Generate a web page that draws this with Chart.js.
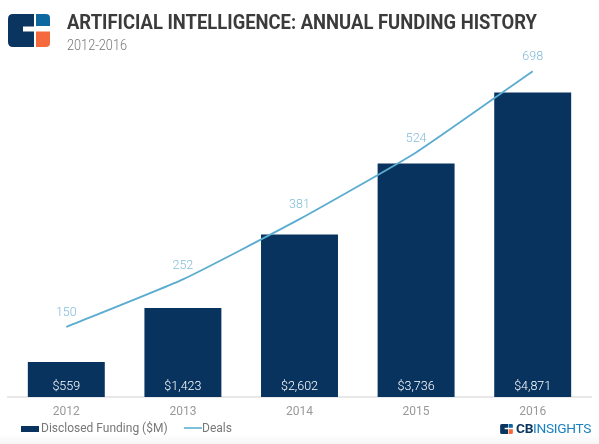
<!DOCTYPE html>
<html><head><meta charset="utf-8">
<script src="https://cdn.jsdelivr.net/npm/chart.js@4.4.1/dist/chart.umd.min.js"></script>
<style>
html,body{margin:0;padding:0;background:#fff;}
body{width:599px;height:444px;position:relative;overflow:hidden;font-family:Roboto,"Noto Sans",sans-serif;}
#wrap{position:absolute;left:0;top:0;width:599px;height:444px;}
.t{position:absolute;white-space:nowrap;transform-origin:0 0;line-height:1;}
#fade{position:absolute;left:0;top:434px;width:599px;height:10px;background:linear-gradient(rgba(0,0,0,0),rgba(0,0,0,0.035));}
</style></head><body>
<div id="fade"></div>
<div id="wrap"><canvas id="c" width="599" height="444"></canvas></div>

<svg style="position:absolute;left:8px;top:14px" width="42" height="33" viewBox="0 0 42 33">
  <path d="M5 0 H26 V12.5 H15 V17.5 H26 V33 H5 Q0 33 0 28 V5 Q0 0 5 0 Z" fill="#0b3561"/>
  <path d="M28 0 H38 Q42 0 42 4 V12 H28 Z" fill="#0d68a0"/>
  <path d="M28 17.5 H42 V29 Q42 33 38 33 H28 Z" fill="#f46a3c"/>
</svg>

<div id="title" class="t" data-w="470" style="left:67px;top:12px;font-size:21px;font-weight:700;color:#3b3b3b;">ARTIFICIAL INTELLIGENCE: ANNUAL FUNDING HISTORY</div>
<div id="sub" class="t" data-w="60" style="left:67px;top:38px;font-size:14px;font-weight:300;color:#777;">2012-2016</div>

<div style="position:absolute;left:21px;top:426px;width:18px;height:6px;background:#08335f"></div>
<div class="t" id="lg1" style="left:41px;top:422px;font-size:12px;color:#777;">Disclosed Funding ($M)</div>
<div style="position:absolute;left:184px;top:427px;width:18px;height:2px;background:#7cc0dc"></div>
<div class="t" id="lg2" style="left:202px;top:422px;font-size:12px;color:#777;">Deals</div>

<svg style="position:absolute;left:499px;top:424px" width="15" height="10" viewBox="0 0 42 33">
  <path d="M5 0 H26 V12.5 H15 V17.5 H26 V33 H5 Q0 33 0 28 V5 Q0 0 5 0 Z" fill="#0b3561"/>
  <path d="M28 0 H38 Q42 0 42 4 V12 H28 Z" fill="#0d68a0"/>
  <path d="M28 17.5 H42 V29 Q42 33 38 33 H28 Z" fill="#f46a3c"/>
</svg>
<div class="t" id="cbi" data-w="75" style="left:516px;top:422px;font-size:13px;letter-spacing:-0.3px;"><span style="font-weight:700;color:#0b3561">CB</span><span style="color:#1b80bf">INSIGHTS</span></div>

<script>
const years = ['2012','2013','2014','2015','2016'];
const funding = [559, 1423, 2602, 3736, 4871];
const deals = [150, 252, 381, 524, 698];

function fmtMoney(v){ return '$' + v.toLocaleString('en-US'); }

// horizontally fit condensed texts
document.querySelectorAll('[data-w]').forEach(el=>{
  const w = el.getBoundingClientRect().width;
  const target = parseFloat(el.dataset.w);
  el.style.transform = 'scaleX(' + (target / w) + ')';
});

const labelPlugin = {
  id: 'valueLabels',
  afterDatasetsDraw(chart){
    const ctx = chart.ctx;
    ctx.save();
    ctx.textAlign = 'center';
    ctx.textBaseline = 'middle';
    ctx.font = '300 12.5px Roboto';
    const barMeta = chart.getDatasetMeta(1);
    ctx.fillStyle = '#ffffff';
    barMeta.data.forEach((b, i) => {
      ctx.fillText(fmtMoney(funding[i]), b.x, b.base - 10);
    });
    const lineMeta = chart.getDatasetMeta(0);
    ctx.fillStyle = '#82bcd8';
    lineMeta.data.forEach((p, i) => {
      ctx.fillText(String(deals[i]), p.x, p.y - 14);
    });
    ctx.restore();
  }
};

new Chart(document.getElementById('c'), {
  type: 'bar',
  data: {
    labels: years,
    datasets: [
      { type: 'line', label: 'Deals', data: deals, yAxisID: 'yDeals',
        borderColor: '#5aacd0', borderWidth: 1.8, pointRadius: 0, tension: 0.15,
        fill: false, order: 0 },
      { type: 'bar', label: 'Disclosed Funding ($M)', data: funding, yAxisID: 'yFund',
        backgroundColor: '#08335f', categoryPercentage: 1, barPercentage: 0.66, order: 1 }
    ]
  },
  options: {
    responsive: false,
    animation: false,
    layout: { padding: { left: 8, right: 8, top: 60, bottom: 0 } },
    plugins: { legend: { display: false }, tooltip: { enabled: false } },
    scales: {
      x: {
        grid: { display: false, drawTicks: false },
        border: { display: true, color: '#e8e8e8', width: 2 },
        ticks: { color: '#999', font: { size: 12, family: 'Roboto' }, padding: 8 },
        afterFit: a => { a.height = 47; }
      },
      yFund: { display: false, min: 0, max: 5392 },
      yDeals: { display: false, min: 0, max: 722 }
    }
  },
  plugins: [labelPlugin]
});
</script>
</body></html>
